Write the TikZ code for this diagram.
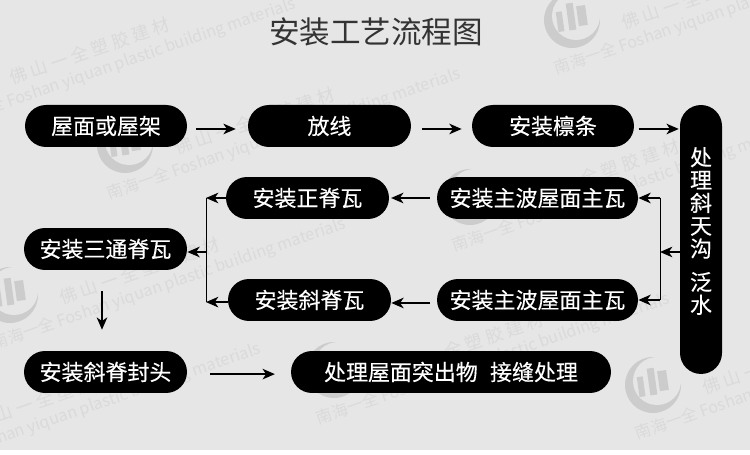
\documentclass[tikz,border=0pt]{standalone}
\usepackage{fontspec}
\setmainfont{Noto Sans CJK SC}
\newfontfamily\pillfont[FakeBold=0.25]{Noto Sans CJK SC}
\usetikzlibrary{arrows.meta}
\definecolor{paper}{HTML}{E6E6E6}
\definecolor{markgray}{HTML}{DADADA}
\definecolor{logogray}{HTML}{CCCCCC}
\tikzset{
  pill/.style={fill=black, text=white, rounded corners=0.42cm, minimum height=0.84cm, inner sep=0pt, font=\pillfont\fontsize{12.5}{14}\selectfont},
  flow/.style={-{Stealth[length=7pt,width=6pt,inset=2pt]}, line width=0.9pt, black},
  branch/.style={line width=0.5pt, black},
  wmark/.style={text=markgray, rotate=19, anchor=west, inner sep=0pt}
}
\begin{document}
\begin{tikzpicture}[x=0.02cm,y=-0.02cm]
        \useasboundingbox (0,0) rectangle (750,455);
        % Sfondo
        \fill[white] (0,0) rectangle (750,455);
        \fill[paper] (0,0) rectangle (750,450);

        % Watermark
        \begin{scope}
        \clip (0,0) rectangle (750,450);
        \foreach \wx/\wy in {-40/75, 572/20, 125/145, 470/197, 10/295, 653/385, 334/370, -75/420} {
            \fill[logogray] (\wx,\wy) circle (0.56cm);
            \fill[paper] (\wx+4,\wy-4) circle (0.48cm);
            \fill[logogray, rotate around={8:(\wx,\wy)}] (\wx-15,\wy+10) rectangle (\wx-9,\wy-10) (\wx-4,\wy+10) rectangle (\wx+3,\wy-17) (\wx+6,\wy+7) rectangle (\wx+15,\wy-13);
            \node[wmark, font=\fontsize{10}{12}\selectfont] at (\wx+50,\wy+3) {佛\ 山\ 一\ 全\ 塑\ 胶\ 建\ 材};
            \node[wmark, font=\fontsize{9.2}{12}\selectfont] at (\wx-17,\wy+50) {南海一全 Foshan yiquan plastic building materials};
        }
        \end{scope}

        % Titolo
        \node[text=black!80, font=\fontsize{17.4}{20}\selectfont] (title) at (376,32) {安装工艺流程图};

        % Riga alta
        \node[pill, minimum width=3.24cm] (roof) at (106,126) {屋面或屋架};
        \node[pill, minimum width=3.26cm] (layout) at (329.5,126) {放线};
        \node[pill, minimum width=3.24cm] (purlin) at (553,126) {安装檩条};
        \node[pill, minimum width=0.84cm, minimum height=5.38cm] (gutter) at (701,239.5) {};
        \node[text=white, align=center, inner sep=0pt, font=\pillfont\fontsize{12.5}{13}\selectfont] (gutterlabel) at (701,231) {处\\理\\斜\\天\\沟\\[6pt]泛\\水};

        % Riga centrale
        \node[pill, minimum width=4.02cm] (mainup) at (537.5,198) {安装主波屋面主瓦};
        \node[pill, minimum width=4.02cm] (maindown) at (537.5,300) {安装主波屋面主瓦};
        \node[pill, minimum width=3.26cm] (ridge) at (307.5,198) {安装正脊瓦};
        \node[pill, minimum width=3.26cm] (hip) at (309.5,300) {安装斜脊瓦};
        \node[pill, minimum width=3.26cm] (tee) at (105.5,249) {安装三通脊瓦};

        % Riga bassa
        \node[pill, minimum width=3.26cm] (hipend) at (105.5,372) {安装斜脊封头};
        \node[pill, minimum width=6.4cm] (finish) at (451,372) {处理屋面突出物\hspace{7pt}接缝处理};

        % Frecce riga alta
        \draw[flow, shorten <=5pt, shorten >=6.8pt] ([yshift=-1.7pt]roof.east) -- ([yshift=-1.7pt]layout.west);
        \draw[flow, shorten <=6.2pt, shorten >=5.7pt] ([yshift=-1.7pt]layout.east) -- ([yshift=-1.7pt]purlin.west);
        \coordinate (purlinout) at ([yshift=-1.7pt]purlin.east);
        \draw[flow, shorten <=2.5pt, shorten >=0.5pt] (purlinout) -- (gutter.west |- purlinout);

        % Ramo destro
        \coordinate (jr) at (660,252);
        \coordinate (jrtop) at (jr |- mainup.east);
        \coordinate (jrbot) at (jr |- maindown.east);
        \draw[flow] (gutter.west |- jr) -- (jr);
        \draw[branch] (jrtop) -- (jrbot);
        \draw[flow] (jrtop) -- (mainup.east);
        \draw[flow] (jrbot) -- (maindown.east);

        % Frecce centrali
        \draw[flow, shorten <=4pt, shorten >=1pt] (mainup.west) -- (ridge.east);
        \draw[flow, shorten <=4pt, shorten >=0pt] ([yshift=-1.7pt]maindown.west) -- ([yshift=-1.7pt]hip.east);

        % Ramo sinistro
        \coordinate (jl) at (206,252);
        \coordinate (jltop) at (jl |- ridge.west);
        \coordinate (jlbot) at (jl |- hip.west);
        \draw[branch] (jltop) -- ([yshift=-1.2pt]jlbot);
        \draw[flow] (ridge.west) -- (jltop);
        \draw[flow] ([yshift=-1.2pt]hip.west) -- ([yshift=-1.2pt]jlbot);
        \draw[flow] (jl) -- (tee.east |- jl);

        % Frecce in basso
        \draw[flow, shorten <=11.9pt, shorten >=11.9pt] ([xshift=-2pt]tee.south) -- ([xshift=-2pt]hipend.north);
        \draw[flow, shorten <=13pt, shorten >=9pt] ([yshift=-1.2pt]hipend.east) -- ([yshift=-1.2pt]finish.west);
\end{tikzpicture}
\end{document}
